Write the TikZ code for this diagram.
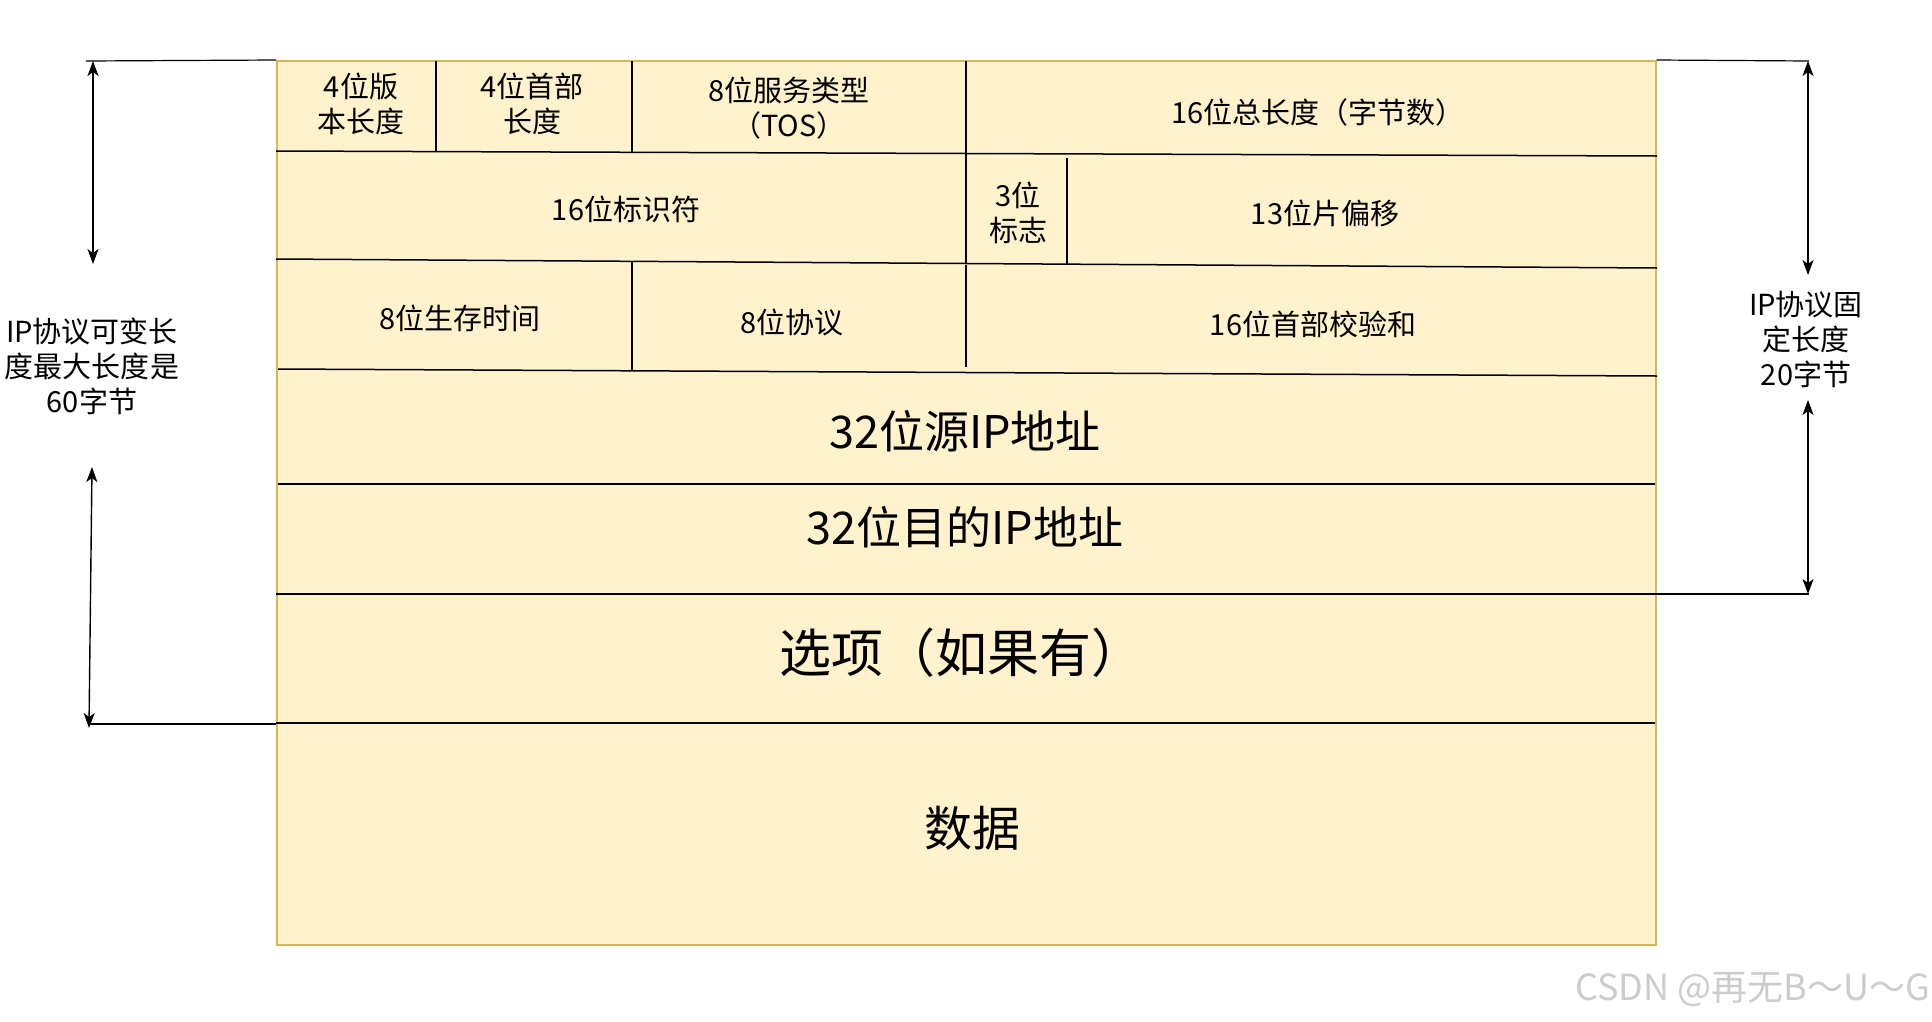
\documentclass[tikz,border=0pt]{standalone}
\usepackage{fontspec}
\setmainfont{Noto Sans CJK SC}
\usetikzlibrary{arrows.meta}
\definecolor{cellfill}{HTML}{FFF2CC}
\definecolor{cellborder}{HTML}{D6B656}
\definecolor{wmgray}{HTML}{CCCCCC}
\begin{document}
\begin{tikzpicture}[x=1pt,y=-1pt,
  sm/.style={font=\fontsize{29}{35}\selectfont, align=center, inner sep=0pt},
  big/.style={font=\fontsize{45}{54}\selectfont, inner sep=0pt},
  opt/.style={font=\fontsize{52}{60}\selectfont, inner sep=0pt},
  dat/.style={font=\fontsize{48}{58}\selectfont, inner sep=0pt},
  wmark/.style={font=\fontsize{36}{40}\selectfont, text=wmgray, inner sep=0pt},
  rowrule/.style={line width=1.5pt, black},
  colrule/.style={line width=1.1pt, black},
  leader/.style={line width=1.2pt, black},
  dimarrow/.style={line width=1.4pt, black,
    {Stealth[length=15pt,width=11pt,inset=4pt]}-{Stealth[length=15pt,width=11pt,inset=4pt]}}
]
\useasboundingbox (0,0) rectangle (1932,1021);
\fill[white] (0,0) rectangle (1932,1021);

% frame
\node[draw=cellborder, fill=cellfill, line width=1.5pt, inner sep=0pt,
      minimum width=1379pt, minimum height=884pt, anchor=north west] (frame) at (276,60) {};

% row rules
\draw[rowrule] (276,151) -- (1657,156);
\draw[rowrule] (276,259) -- (1657,268);
\draw[rowrule] (278,369) -- (1657,376);
\draw[rowrule] (278,484) -- (1655,484);
\draw[rowrule] (276,594) -- (1655,594);
\draw[rowrule] (276,723) -- (1655,723);

% column rules
\draw[colrule] (436,61) -- (436,151);
\draw[colrule] (632,61) -- (632,153);
\draw[colrule] (966,61) -- (966,155);
\draw[colrule] (966,155) -- (966,263);
\draw[colrule] (1067,158) -- (1067,264);
\draw[colrule] (632,262) -- (632,371);
\draw[colrule] (966,265) -- (966,367);

% dimension coordinates
\coordinate (ltop) at (86,61);
\coordinate (lbot) at (89,724);
\coordinate (rtop) at (1809,61);
\coordinate (rbot) at (1809,594);
\coordinate (la1) at (93,61);
\coordinate (la2) at (93,264);
\coordinate (lb1) at (92,467);
\coordinate (lb2) at (89,728);
\coordinate (ra1) at (1808,61);
\coordinate (ra2) at (1808,275);
\coordinate (rb1) at (1808,400);
\coordinate (rb2) at (1808,594);

% leader lines
\draw[leader] (ltop) -- (frame.north west);
\draw[leader] (lbot) -- (276,724);
\draw[leader] (frame.north east) -- (rtop);
\draw[leader] (1655,594) -- (rbot);

% dimension arrows
\draw[dimarrow] (la1) -- (la2);
\draw[dimarrow] (lb1) -- (lb2);
\draw[dimarrow] (ra1) -- (ra2);
\draw[dimarrow] (rb1) -- (rb2);

% side labels
\node[sm] (lvar) at (92,366) {IP协议可变长\\度最大长度是\\60字节};
\node[sm] (rfix) at (1806,339) {IP协议固\\定长度\\20字节};

% cells
\node[sm] (ver) at (361,104) {4位版\\本长度};
\node[sm] (ihl) at (532,104) {4位首部\\长度};
\node[sm] (tos) at (789,108) {8位服务类型\\（TOS）};
\node[sm] (tlen) at (1318,112) {16位总长度（字节数）};
\node[sm] (ident) at (626,209) {16位标识符};
\node[sm] (flags) at (1018,213) {3位\\标志};
\node[sm] (frag) at (1325,213) {13位片偏移};
\node[sm] (ttl) at (460,318) {8位生存时间};
\node[sm] (proto) at (792,322) {8位协议};
\node[sm] (csum) at (1313,324) {16位首部校验和};
\node[big] (src) at (965,431) {32位源IP地址};
\node[big] (dst) at (965,527) {32位目的IP地址};
\node[opt] (opts) at (961,653) {选项（如果有）};
\node[dat] (data) at (972,828) {数据};

% watermark
\node[wmark, anchor=east] (mark) at (1930,990) {CSDN @再无B～U～G};
\end{tikzpicture}
\end{document}
